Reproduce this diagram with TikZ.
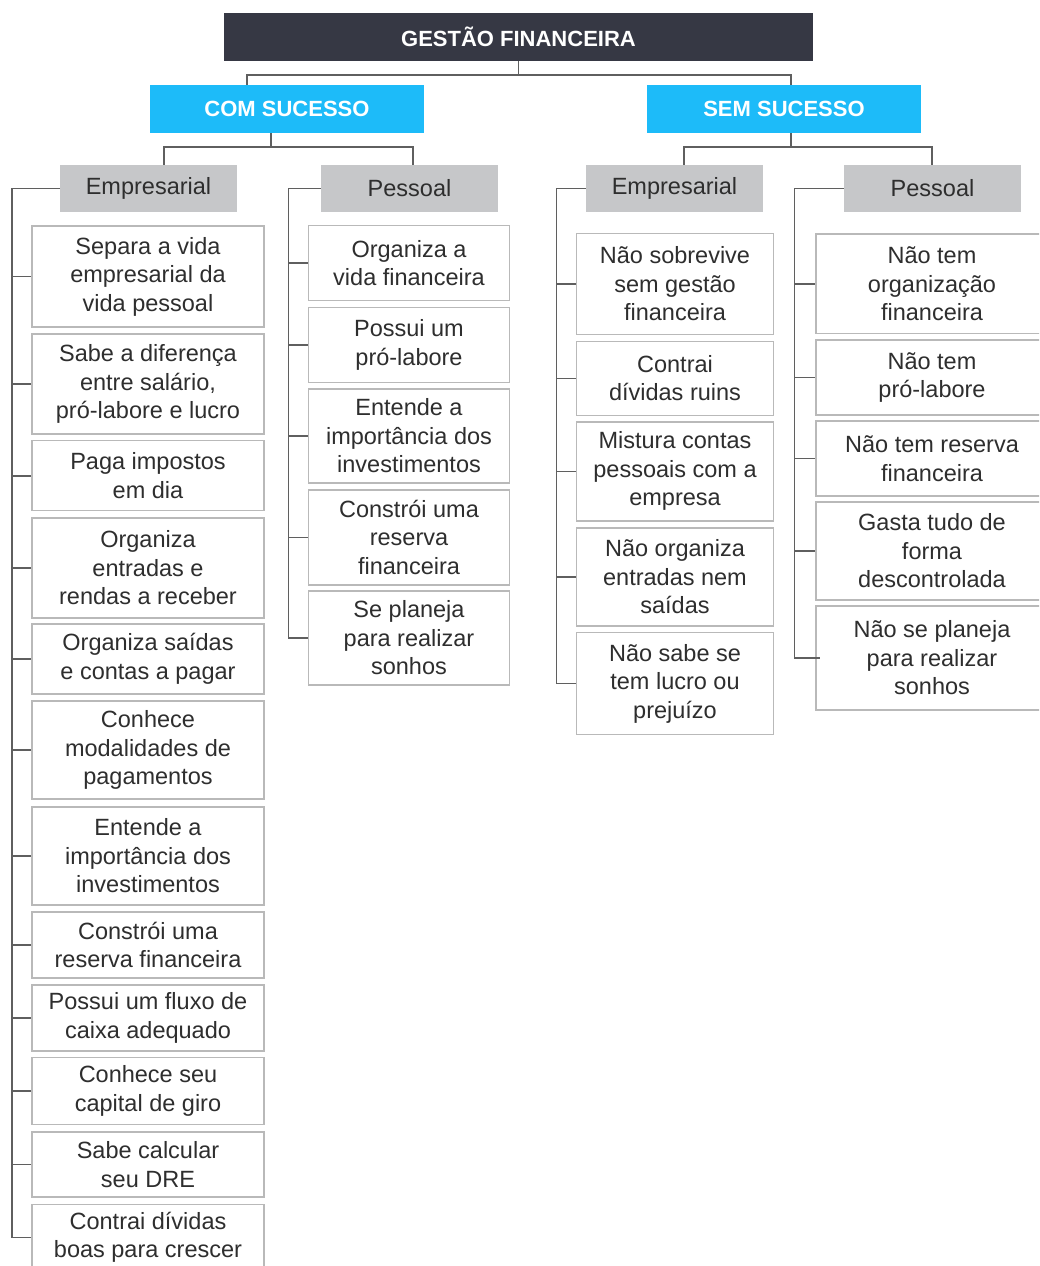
\documentclass[tikz,border=0pt]{standalone}
\usepackage{fontspec}
\setmainfont{Liberation Sans}
\usetikzlibrary{calc}
\definecolor{rootc}{HTML}{363844}
\definecolor{bluec}{HTML}{1DBBF9}
\definecolor{grayc}{HTML}{C6C7C9}
\definecolor{borderc}{HTML}{B9B9B9}
\definecolor{linec}{HTML}{5F5F5F}
\definecolor{txtc}{HTML}{2E2E2E}
\begin{document}
\begin{tikzpicture}[x=1pt,y=-1pt,
  rootbox/.style={fill=rootc, text=white, inner sep=0pt, font=\bfseries\fontsize{22}{26}\selectfont, minimum width=589pt, minimum height=48pt},
  groupbox/.style={fill=bluec, text=white, inner sep=0pt, font=\bfseries\fontsize{22}{26}\selectfont, minimum width=274pt, minimum height=48pt},
  catbox/.style={fill=grayc, text=txtc, inner sep=0pt, font=\fontsize{23.5}{28}\selectfont, minimum width=177pt, minimum height=47pt},
  leaf/.style={draw=borderc, line width=1.5pt, fill=white, text=txtc, align=center, inner sep=0pt, font=\fontsize{23.5}{28.5}\selectfont},
  leafA/.style={leaf, minimum width=232pt},
  leafB/.style={leaf, minimum width=201pt},
  leafC/.style={leaf, minimum width=197pt},
  leafD/.style={leaf, minimum width=232pt},
  conn/.style={draw=linec, line width=1.6pt}]
\useasboundingbox (0,0) rectangle (1039,1266);
\clip (0,0) rectangle (1039,1266);
\fill[white] (0,0) rectangle (1039,1266);

% top levels
\node[rootbox] (root) at (518.5,37) {GESTÃO FINANCEIRA};
\node[groupbox] (cs) at (287,109) {COM SUCESSO};
\node[groupbox] (ss) at (784,109) {SEM SUCESSO};
\node[catbox] (e1) at (148.5,188.5) {Empresarial};
\node[catbox] (p1) at (409.5,188.5) {Pessoal};
\node[catbox] (e2) at (674.5,188.5) {Empresarial};
\node[catbox] (p2) at (932.5,188.5) {Pessoal};

% COM SUCESSO / Empresarial
\node[leafA, minimum height=101pt] (e1a) at (148,276.5) {Separa a vida\\empresarial da\\vida pessoal};
\node[leafA, minimum height=100pt] (e1b) at (148,384) {Sabe a diferença\\entre salário,\\pró-labore e lucro};
\node[leafA, minimum height=70pt] (e1c) at (148,475.7) {Paga impostos\\em dia};
\node[leafA, minimum height=100pt] (e1d) at (148,568) {Organiza\\entradas e\\rendas a receber};
\node[leafA, minimum height=70pt] (e1e) at (148,659) {Organiza saídas\\e contas a pagar};
\node[leafA, minimum height=98pt] (e1f) at (148,750) {Conhece\\modalidades de\\pagamentos};
\node[leafA, minimum height=98pt] (e1g) at (148,856) {Entende a\\importância dos\\investimentos};
\node[leafA, minimum height=66pt] (e1h) at (148,945) {Constrói uma\\reserva financeira};
\node[leafA, minimum height=66pt] (e1i) at (148,1018) {Possui um fluxo de\\caixa adequado};
\node[leafA, minimum height=67pt] (e1j) at (148,1091) {Conhece seu\\capital de giro};
\node[leafA, minimum height=65pt] (e1k) at (148,1164.5) {Sabe calcular\\seu DRE};
\node[leafA, minimum height=66pt] (e1l) at (148,1237.5) {Contrai dívidas\\boas para crescer};

% COM SUCESSO / Pessoal
\node[leafB, minimum height=75pt] (p1a) at (409,263) {Organiza a\\vida financeira};
\node[leafB, minimum height=75pt] (p1b) at (409,345) {Possui um\\pró-labore};
\node[leafB, minimum height=94pt] (p1c) at (409,436) {Entende a\\importância dos\\investimentos};
\node[leafB, minimum height=95pt] (p1d) at (409,537.3) {Constrói uma\\reserva\\financeira};
\node[leafB, minimum height=94pt] (p1e) at (409,638) {Se planeja\\para realizar\\sonhos};

% SEM SUCESSO / Empresarial
\node[leafC, minimum height=101pt] (e2a) at (675,284) {Não sobrevive\\sem gestão\\financeira};
\node[leafC, minimum height=74pt] (e2b) at (675,378.3) {Contrai\\dívidas ruins};
\node[leafC, minimum height=99pt] (e2c) at (675,471.3) {Mistura contas\\pessoais com a\\empresa};
\node[leafC, minimum height=98pt] (e2d) at (675,577) {Não organiza\\entradas nem\\saídas};
\node[leafC, minimum height=102pt] (e2e) at (675,683.5) {Não sabe se\\tem lucro ou\\prejuízo};

% SEM SUCESSO / Pessoal
\node[leafD, minimum height=99.5pt] (p2a) at (932,283.7) {Não tem\\organização\\financeira};
\node[leafD, minimum height=75pt] (p2b) at (932,377.5) {Não tem\\pró-labore};
\node[leafD, minimum height=75pt] (p2c) at (932,458.5) {Não tem reserva\\financeira};
\node[leafD, minimum height=98pt] (p2d) at (932,550.8) {Gasta tudo de\\forma\\descontrolada};
\node[leafD, minimum height=104pt] (p2e) at (932,658) {Não se planeja\\para realizar\\sonhos};

% connectors: root to groups
\coordinate (b0) at ($(root.south)+(0,14)$);
\coordinate (csin) at ($(cs.north)+(-40,0)$);
\coordinate (ssin) at ($(ss.north)+(7,0)$);
\draw[conn] (root.south) -- (b0) -| (csin);
\draw[conn] (b0) -| (ssin);

% groups to categories
\coordinate (csout) at ($(cs.south)+(-16,0)$);
\coordinate (b1) at ($(csout)+(0,14)$);
\coordinate (e1in) at ($(e1.north)+(15.5,0)$);
\coordinate (p1in) at ($(p1.north)+(3.5,0)$);
\draw[conn] (csout) -- (b1) -| (e1in);
\draw[conn] (b1) -| (p1in);

\coordinate (ssout) at ($(ss.south)+(7,0)$);
\coordinate (b2) at ($(ssout)+(0,14)$);
\coordinate (e2in) at ($(e2.north)+(9.5,0)$);
\coordinate (p2in) at ($(p2.north)+(-0.5,0)$);
\draw[conn] (ssout) -- (b2) -| (e2in);
\draw[conn] (b2) -| (p2in);

% side buses
\coordinate (e1v) at ($(e1.west)+(-48,0)$);
\draw[conn] (e1.west) -- (e1v) -- (e1v |- e1l.west);
\foreach \n in {e1a,e1b,e1c,e1d,e1e,e1f,e1g,e1h,e1i,e1j,e1k,e1l}
  \draw[conn] (e1v |- \n.west) -- (\n.west);

\coordinate (p1v) at ($(p1.west)+(-32.5,0)$);
\draw[conn] (p1.west) -- (p1v) -- (p1v |- p1e.west);
\foreach \n in {p1a,p1b,p1c,p1d,p1e}
  \draw[conn] (p1v |- \n.west) -- (\n.west);

\coordinate (e2v) at ($(e2.west)+(-29.5,0)$);
\draw[conn] (e2.west) -- (e2v) -- (e2v |- e2e.west);
\foreach \n in {e2a,e2b,e2c,e2d,e2e}
  \draw[conn] (e2v |- \n.west) -- (\n.west);

\coordinate (p2v) at ($(p2.west)+(-49.5,0)$);
\draw[conn] (p2.west) -- (p2v) -- (p2v |- p2e.west);
\foreach \n in {p2a,p2b,p2c,p2d}
  \draw[conn] (p2v |- \n.west) -- (\n.west);
\draw[conn] (p2v |- p2e.west) -- ($(p2e.west)+(5,0)$);
\end{tikzpicture}
\end{document}
